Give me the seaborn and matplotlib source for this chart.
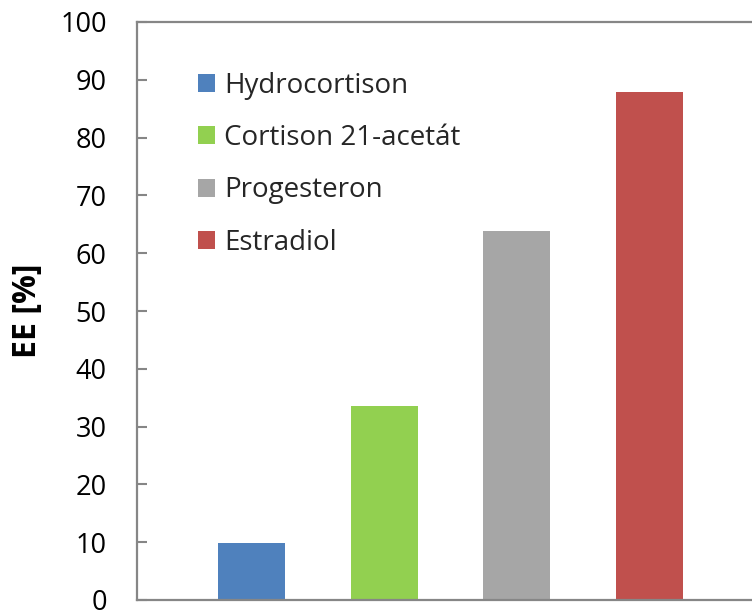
import matplotlib
matplotlib.use("Agg")
import matplotlib.pyplot as plt
import seaborn as sns
import pandas as pd
from matplotlib.patches import Patch

categories = ["Hydrocortison", "Cortison 21-acetát", "Progesteron", "Estradiol"]
values = [9.8, 33.6, 63.8, 87.9]
colors = ["#4F81BD", "#92D050", "#A6A6A6", "#C0504D"]
yticks = [0, 10, 20, 30, 40, 50, 60, 70, 80, 90, 100]

sns.set_theme(style="white")
plt.rcParams["font.family"] = ["Open Sans", "DejaVu Sans"]

W, H = 752, 612
fig = plt.figure(figsize=(W / 100, H / 100), dpi=100)
left_px, right_px, top_px, bottom_px = 137.3, 762, 22, 600
ax = fig.add_axes([left_px / W, (H - bottom_px) / H,
                   (right_px - left_px) / W, (bottom_px - top_px) / H])

df = pd.DataFrame({"cat": categories, "val": values})
sns.barplot(data=df, x="cat", y="val", hue="cat", palette=colors,
            width=0.505, linewidth=0, legend=False, ax=ax, saturation=1)

c0, pitch = 251.7, 132.6
ax.set_xlim((left_px - c0) / pitch, (right_px - c0) / pitch)
ax.set_ylim(0, 100)
ax.set_yticks(yticks)
ax.set_yticklabels([str(t) for t in yticks])
ax.set_xticks([])
ax.set_xlabel("")

spine_c = "#868686"
for s in ["left", "top", "bottom"]:
    ax.spines[s].set_visible(True)
    ax.spines[s].set_color(spine_c)
    ax.spines[s].set_linewidth(1.6)
ax.spines["right"].set_visible(False)

ax.tick_params(axis="y", direction="in", length=7.5, width=1.5, color=spine_c,
               labelsize=19.5, pad=22, labelcolor="black", left=True)

ax.set_ylabel("EE [%]", fontsize=23, fontweight="bold", color="black")
ax.yaxis.set_label_coords((44 - left_px) / (right_px - left_px),
                          (bottom_px - 311) / (bottom_px - top_px))

handles = [Patch(facecolor=c, edgecolor="none") for c in colors]
leg = ax.legend(handles, categories, loc="upper left",
                bbox_to_anchor=((198 - left_px) / (right_px - left_px),
                                (bottom_px - 72) / (bottom_px - top_px)),
                frameon=False, fontsize=20, handlelength=0.62, handleheight=0.62,
                handletextpad=0.32, labelspacing=0.87, borderpad=0, borderaxespad=0)

fig.savefig("out.png", dpi=100)
